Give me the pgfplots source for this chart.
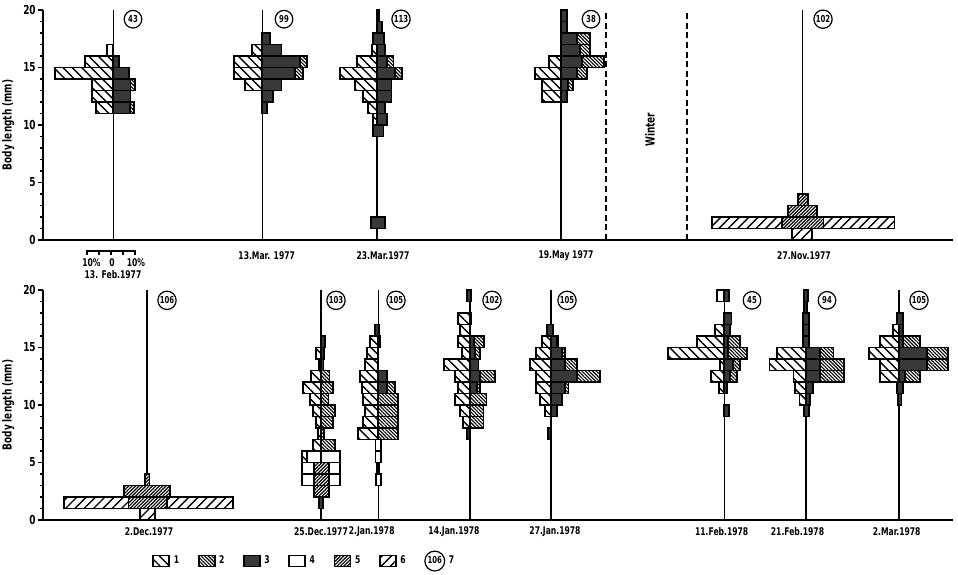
\documentclass[border=0pt]{standalone}
\usepackage{fontspec}
\setmainfont{DejaVu Sans Condensed}[FakeStretch=0.8]
\usepackage{pgfplots}
\usepackage{pgfplotstable}
\pgfplotsset{compat=1.18}
\usetikzlibrary{patterns.meta}

\newcommand\tf{\bfseries\fontsize{5.3}{5.8}\selectfont}
\newcommand\lf{\bfseries\fontsize{6.2}{6.8}\selectfont}
\newcommand\cf{\bfseries\fontsize{4.8}{5}\selectfont}

\tikzset{
 c1/.style={draw=black, line width=0.9pt, fill=white, postaction={pattern={Lines[angle=-45,distance=3.3pt,line width=0.7pt]}}},
 c2/.style={draw=black, line width=0.9pt, fill=white, postaction={pattern={Lines[angle=-45,distance=1.25pt,line width=0.55pt]}}},
 c3/.style={draw=black, line width=0.9pt, fill=black!78},
 c4/.style={draw=black, line width=0.9pt, fill=white},
 c5/.style={draw=black, line width=0.9pt, fill=white, postaction={pattern={Lines[angle=45,distance=1.2pt,line width=0.6pt]}}},
 c6/.style={draw=black, line width=0.9pt, fill=white, postaction={pattern={Lines[angle=45,distance=3.3pt,line width=0.7pt]}}},
 circ/.style={circle, draw, line width=0.6pt, inner sep=0.4pt, minimum size=8.8pt, font=\cf},
}

\pgfplotsset{
 bg/.style={
  x=0.5pt, y=5.75pt, xmin=0, xmax=910, ymin=0, ymax=20,
  anchor=origin, clip=false,
  axis lines=left, axis line style={-, line width=0.9pt},
  ytick={0,5,10,15,20},
  minor ytick={1,2,3,4,6,7,8,9,11,12,13,14,16,17,18,19},
  tick align=outside, major tick length=2.6pt, minor tick length=1.6pt,
  ytick style={black, line width=0.6pt},
  xmajorgrids, xtick style={draw=none}, xticklabels={},
  grid style={black, line width=0.8pt},
  yticklabel style={font=\lf, inner sep=1pt},
  /pgf/number format/assume math mode=true,
  ylabel={Body length (mm)}, ylabel style={font=\lf},
 },
 % the stack starts at x=0 (left edge); the centre line of a panel is at x=40
 panel/.style={hide axis, x=1.2pt, y=5.75pt, xmin=0, xmax=80, ymin=0, ymax=20,
  anchor=origin, clip=false, xbar stacked, bar width=1},
}

\newcommand\panel[2]{%
\begin{axis}[panel, at={#1}]
\addplot[draw=none, fill=none] table[x expr=\thisrow{o}+40, y expr=\thisrow{y}+0.5]{#2};
\addplot[c6] table[x=a6, y expr=\thisrow{y}+0.5]{#2};
\addplot[c1] table[x=a1, y expr=\thisrow{y}+0.5]{#2};
\addplot[c4] table[x=a4, y expr=\thisrow{y}+0.5]{#2};
\addplot[c5] table[x=a5, y expr=\thisrow{y}+0.5]{#2};
\addplot[c3] table[x=a3, y expr=\thisrow{y}+0.5]{#2};
\addplot[c2] table[x=a2, y expr=\thisrow{y}+0.5]{#2};
\addplot[c4] table[x=b4, y expr=\thisrow{y}+0.5]{#2};
\addplot[c6] table[x=b6, y expr=\thisrow{y}+0.5]{#2};
\end{axis}}

% columns: y = lower bound of length class (mm); o = left edge (% from centre);
% then widths (%) of the segments from left to right
\pgfplotstableread{
y o a6 a1 a4 a5 a3 a2 b4 b6
16 -2.5 0 0 2.5 0 0 0 0 0
15 -11.8 0 11.8 0 0 2.5 0 0 0
14 -24.3 0 24.3 0 0 6.7 0 0 0
13 -9 0 9 0 0 7.2 1.8 0 0
12 -9 0 9 0 0 7.2 0 0 0
11 -7.2 0 7.2 0 0 7 1.6 0 0
}\tFebA
\pgfplotstableread{
y o a6 a1 a4 a5 a3 a2 b4 b6
17 0 0 0 0 0 3.2 0 0 0
16 -4.2 0 4.2 0 0 8 0 0 0
15 -11.8 0 11.8 0 0 15.7 2.8 0 0
14 -11.8 0 11.8 0 0 13.6 3.2 0 0
13 -7.2 0 7.2 0 0 8 0 0 0
12 0 0 0 0 0 4.6 0 0 0
11 0 0 0 0 0 1.8 0 0 0
}\tMarA
\pgfplotstableread{
y o a6 a1 a4 a5 a3 a2 b4 b6
19 0 0 0 0 0 1.1 0 0 0
18 0 0 0 0 0 2.1 0 0 0
17 -1.4 0 0 0 0 4.4 0 0 0
16 -2.1 0 2.1 0 0 3.5 0 0 0
15 -8.3 0 8.3 0 0 4.2 2.8 0 0
14 -15.3 0 15.3 0 0 7.6 2.8 0 0
13 -9 0 9 0 0 6.2 0 0 0
12 -5.6 0 5.6 0 0 6.2 0 0 0
11 -3.5 0 3.5 0 0 3.5 0 0 0
10 -1.7 0 1.7 0 0 4.2 0 0 0
9 -1.7 0 0 0 0 4.5 0 0 0
1 -2.5 0 0 0 0 6 0 0 0
}\tMarB
\pgfplotstableread{
y o a6 a1 a4 a5 a3 a2 b4 b6
19 0 0 0 0 0 2.6 0 0 0
18 0 0 0 0 0 2.6 0 0 0
17 0 0 0 0 0 6.5 5.6 0 0
16 0 0 0 0 0 7.9 4.2 0 0
15 -5 0 5 0 0 8.6 9.3 0 0
14 -10.8 0 10.8 0 0 6.5 4.4 0 0
13 -7.8 0 7.8 0 0 3 2 0 0
12 -7.8 0 7.8 0 0 2.6 0 0 0
}\tMay
\pgfplotstableread{
y o a6 a1 a4 a5 a3 a2 b4 b6
3 -1.7 0 0 0 4.2 0 0 0 0
2 -5.8 0 0 0 11.8 0 0 0 0
1 -37.5 28.9 0 0 17.4 0 0 0 29.6
0 -4.2 8.1 0 0 0 0 0 0 0
}\tNov
\pgfplotstableread{
y o a6 a1 a4 a5 a3 a2 b4 b6
3 -0.8 0 0 0 2 0 0 0 0
2 -9.4 0 0 0 19.1 0 0 0 0
1 -34.4 26.8 0 0 15.9 0 0 0 27.8
0 -2.8 6.3 0 0 0 0 0 0 0
}\tDecA
\pgfplotstableread{
y o a6 a1 a4 a5 a3 a2 b4 b6
15 0 0 0 0 0 1.7 0 0 0
14 -2.1 0 2.1 0 0 1.4 0 0 0
13 -0.7 0 0.7 0 0 1 0 0 0
12 -4.2 0 4.2 0 0 0 3.5 0 0
11 -7.6 0 7.6 0 0 0 5.1 0 0
10 -4.6 0 4.6 0 0 0 3.1 0 0
9 -3.2 0 3.2 0 0 0 5.8 0 0
8 -2.1 0 2.1 0 0 0 4.9 0 0
7 -1.1 0 1.1 0 0 0 1.4 0 0
6 -3.5 0 3.5 0 0 0 5.8 0 0
5 -8 0 2 6 0 0 0 7.9 0
4 -8 0 0 5 6.5 0 0 4.4 0
3 -8 0 0 5 6.5 0 0 4.4 0
2 -3 0 0 0 6.5 0 0 0 0
1 -0.7 0 0 0 0 1.4 0 0 0
}\tDecB
\pgfplotstableread{
y o a6 a1 a4 a5 a3 a2 b4 b6
16 -1.4 0 0 0 0 1.8 0 0 0
15 -3.5 0 3.5 0 0 0.7 0 0 0
14 -4.6 0 4.6 0 0 0 0 0 0
13 -5.6 0 5.6 0 0 0 0 0 0
12 -7.6 0 7.6 0 0 3.5 0 0 0
11 -6.9 0 6.9 0 0 3.5 3.5 0 0
10 -6.3 0 6.3 0 0 0 8.3 0 0
9 -5.6 0 5.6 0 0 0 8.3 0 0
8 -6.3 0 6.3 0 0 0 8.3 0 0
7 -8.3 0 8.3 0 0 0 8.3 0 0
6 -1.2 0 0 2.4 0 0 0 0 0
5 -1.2 0 0 2.4 0 0 0 0 0
4 -0.4 0 0 0.8 0 0 0 0 0
3 -1 0 0 2 0 0 0 0 0
}\tJanA
\pgfplotstableread{
y o a6 a1 a4 a5 a3 a2 b4 b6
19 -1.4 0 0 0 0 1.7 0 0 0
17 -4.9 0 4.9 0 0 0.5 0 0 0
16 -4.2 0 4.2 0 0 0 0 0 0
15 -4.9 0 4.9 0 0 1.7 4.2 0 0
14 -3.5 0 3.5 0 0 2.1 2.1 0 0
13 -10.8 0 10.8 0 0 3.5 0 0 0
12 -6.2 0 6.2 0 0 4.2 6.2 0 0
11 -4.9 0 4.9 0 0 2.8 1.4 0 0
10 -6.2 0 6.2 0 0 0 6.9 0 0
9 -4.2 0 4.2 0 0 0 5.6 0 0
8 -2.8 0 2.8 0 0 0 5.6 0 0
7 -1.4 0 0 0 0 1.4 0 0 0
}\tJanB
\pgfplotstableread{
y o a6 a1 a4 a5 a3 a2 b4 b6
16 -1.7 0 0 0 0 2.8 0 0 0
15 -3.75 0 3.75 0 0 2.5 0.7 0 0
14 -6.1 0 6.1 0 0 4.6 1.4 0 0
13 -8.6 0 8.6 0 0 6 4.9 0 0
12 -6.1 0 6.1 0 0 10.8 9.7 0 0
11 -6.1 0 6.1 0 0 6 1.4 0 0
10 -4.4 0 4.4 0 0 4.6 0 0 0
9 -2.4 0 2.4 0 0 2.5 0 0 0
7 -1 0 0 0 0 1 0 0 0
}\tJanC
\pgfplotstableread{
y o a6 a1 a4 a5 a3 a2 b4 b6
19 -2.9 0 0 2.9 0 2.1 0 0 0
17 0 0 0 0 0 3 0 0 0
16 -3.9 0 3.9 0 0 2.4 0 0 0
15 -11.5 0 11.5 0 0 1.7 4.9 0 0
14 -23.6 0 23.6 0 0 1.7 7.6 0 0
13 -1.8 0 1.8 0 0 3.7 2.8 0 0
12 -5.7 0 5.7 0 0 2.4 2.8 0 0
11 -2.1 0 2.1 0 0 1 0 0 0
9 0 0 0 0 0 2.1 0 0 0
}\tFebB
\pgfplotstableread{
y o a6 a1 a4 a5 a3 a2 b4 b6
19 -0.7 0 0 0 0 1.8 0 0 0
18 -0.7 0 0 0 0 1.4 0 0 0
17 -1.2 0 0 0 0 2.7 0 0 0
16 -1.2 0 0 0 0 2.7 0 0 0
15 -1.2 0 0 0 0 2.7 0 0 0
14 -11.8 0 11.8 0 0 6 5.6 0 0
13 -15.1 0 15.1 0 0 6 10 0 0
12 -5.1 0 5.1 0 0 6 10 0 0
11 -4.4 0 4.4 0 0 3.2 0 0 0
10 -2.6 0 2.6 0 0 1.8 0 0 0
9 -0.7 0 0 0 0 2 0 0 0
}\tFebC
\pgfplotstableread{
y o a6 a1 a4 a5 a3 a2 b4 b6
17 -1 0 0 0 0 2.8 0 0 0
16 -2.4 0 2.4 0 0 1.8 0 0 0
15 -7.9 0 7.9 0 0 1.8 6.9 0 0
14 -12.4 0 12.4 0 0 11.5 9 0 0
13 -7.9 0 7.9 0 0 11.5 9 0 0
12 -7.9 0 7.9 0 0 2.5 6.2 0 0
11 -1 0 0 0 0 2.8 0 0 0
10 -0.5 0 0 0 0 1.5 0 0 0
}\tMarC

\begin{document}
\begin{tikzpicture}
\useasboundingbox (0,0) rectangle (479pt,287pt);

% ---------- top row ----------
\begin{axis}[bg, at={(21.65pt,167pt)}, xtick={70,219,333.4,517.7,759}]
\draw[dashed, line width=0.7pt, dash pattern=on 3pt off 1.8pt] (axis cs:562.7,0) -- (axis cs:562.7,20);
\draw[dashed, line width=0.7pt, dash pattern=on 3pt off 1.8pt] (axis cs:643.7,0) -- (axis cs:643.7,20);
\node[rotate=90, font=\lf] at (axis cs:606.7,9.6) {Winter};
\node[circ] at (axis cs:89.7,19.2) {43};
\node[circ] at (axis cs:240.7,19.2) {99};
\node[circ] at (axis cs:357.7,19.2) {113};
\node[circ] at (axis cs:547.7,19.2) {38};
\node[circ] at (axis cs:779.7,19.2) {102};
\node[font=\tf] at (axis cs:223.4,-1.39) {13.Mar. 1977};
\node[font=\tf] at (axis cs:339.7,-1.39) {23.Mar.1977};
\node[font=\tf] at (axis cs:522.7,-1.39) {19.May 1977};
\node[font=\tf] at (axis cs:760.7,-1.39) {27.Nov.1977};
% scale bar under 13 Feb
\draw[line width=0.6pt] (axis cs:43.7,-1.3) -- (axis cs:43.7,-0.96) -- (axis cs:91.7,-0.96) -- (axis cs:91.7,-1.3);
\draw[line width=0.6pt] (axis cs:55.7,-0.96) -- (axis cs:55.7,-1.3);
\draw[line width=0.6pt] (axis cs:67.7,-0.96) -- (axis cs:67.7,-1.3);
\draw[line width=0.6pt] (axis cs:79.7,-0.96) -- (axis cs:79.7,-1.3);
\node[font=\tf] at (axis cs:48.2,-2.0) {10\%};
\node[font=\tf] at (axis cs:68.7,-2.0) {0};
\node[font=\tf] at (axis cs:92.7,-2.0) {10\%};
\node[font=\tf] at (axis cs:69.7,-3.04) {13. Feb.1977};
\end{axis}

\panel{(8.65pt,167pt)}{\tFebA}
\panel{(83.15pt,167pt)}{\tMarA}
\panel{(140.35pt,167pt)}{\tMarB}
\panel{(232.5pt,167pt)}{\tMay}
\panel{(353.15pt,167pt)}{\tNov}

% ---------- bottom row ----------
\begin{axis}[bg, at={(21.65pt,27pt)}, xtick={103.4,277.7,335,426.7,507.4,681,762.4,855.7},
  legend image code/.code={\draw[#1] (0pt,-2.75pt) rectangle (8pt,2.75pt);},
  legend style={at={(axis cs:108.7,-3.57)}, anchor=west, draw=none, fill=none,
    legend columns=-1, font=\tf, inner sep=0pt,
    /tikz/every even column/.append style={column sep=7.5pt},
    nodes={inner sep=1.8pt}}]
\node[circ] at (axis cs:123.7,19.1) {106};
\node[circ] at (axis cs:292.7,19.1) {103};
\node[circ] at (axis cs:352.7,19.1) {105};
\node[circ] at (axis cs:448.7,19.1) {102};
\node[circ] at (axis cs:523.7,19.1) {105};
\node[circ] at (axis cs:708.7,19.1) {45};
\node[circ] at (axis cs:783.7,19.1) {94};
\node[circ] at (axis cs:875.7,19.1) {105};
\node[font=\tf] at (axis cs:105.7,-1.04) {2.Dec.1977};
\node[font=\tf] at (axis cs:277.7,-1.04) {25.Dec.1977};
\node[font=\tf] at (axis cs:328.4,-1.04) {2.Jan.1978};
\node[font=\tf] at (axis cs:410.7,-1.04) {14.Jan.1978};
\node[font=\tf] at (axis cs:511.7,-1.04) {27.Jan.1978};
\node[font=\tf] at (axis cs:678.4,-1.04) {11.Feb.1978};
\node[font=\tf] at (axis cs:754.2,-1.04) {21.Feb.1978};
\node[font=\tf] at (axis cs:853.4,-1.04) {2.Mar.1978};
\addlegendimage{c1}\addlegendentry{1}
\addlegendimage{c2}\addlegendentry{2}
\addlegendimage{c3}\addlegendentry{3}
\addlegendimage{c4}\addlegendentry{4}
\addlegendimage{c5}\addlegendentry{5}
\addlegendimage{c6}\addlegendentry{6}
\addlegendimage{legend image code/.code={\node[circ] at (4.5pt,0pt) {106};}}\addlegendentry{7}
\end{axis}

\panel{(25.35pt,27pt)}{\tDecA}
\panel{(112.5pt,27pt)}{\tDecB}
\panel{(141.15pt,27pt)}{\tJanA}
\panel{(187pt,27pt)}{\tJanB}
\panel{(227.35pt,27pt)}{\tJanC}
\panel{(314.15pt,27pt)}{\tFebB}
\panel{(354.85pt,27pt)}{\tFebC}
\panel{(401.5pt,27pt)}{\tMarC}
\end{tikzpicture}
\end{document}
